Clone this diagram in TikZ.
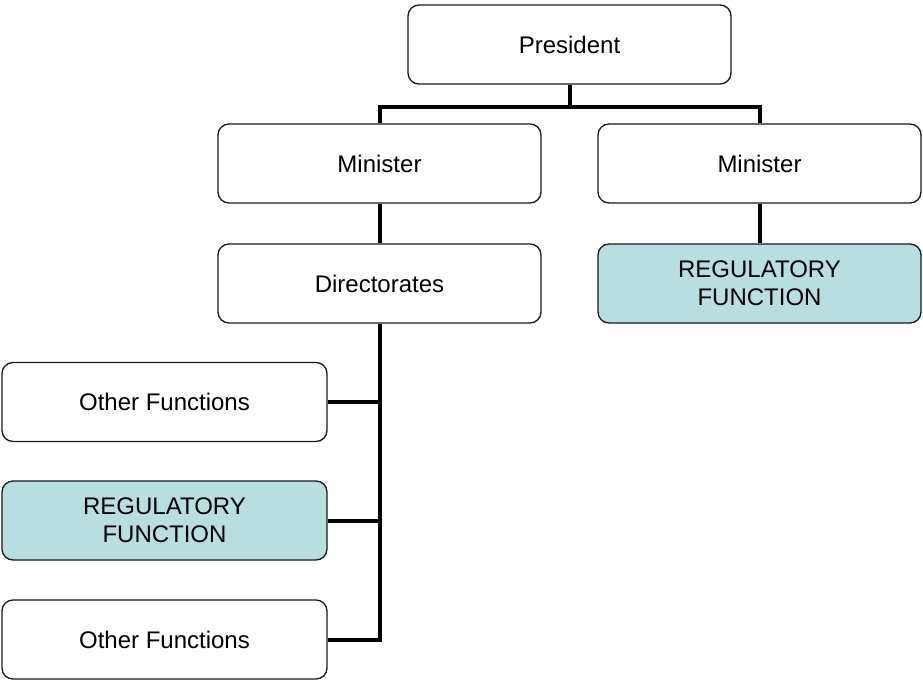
\documentclass[tikz,border=0pt]{standalone}
\usepackage{fontspec}
\setmainfont{Liberation Sans}
\definecolor{regblue}{RGB}{185,222,224}
\begin{document}
\begin{tikzpicture}[x=1pt,y=-1pt,
  box/.style={draw=black!90,line width=1.3pt,rounded corners=11pt,minimum width=323pt,minimum height=79pt,inner sep=0pt,align=center,font=\fontsize{24}{28}\selectfont},
  regbox/.style={box,fill=regblue},
  conn/.style={line width=4pt,black}]
\useasboundingbox (0,0) rectangle (923,682);
\node[box] (pres) at (569.5,44.5) {President};
\node[box] (minL) at (379.5,163.5) {Minister};
\node[box] (minR) at (759.5,163.5) {Minister};
\node[box] (dir) at (379.5,283.5) {Directorates};
\node[regbox] (regR) at (759.5,283.5) {REGULATORY\\FUNCTION};
\node[box,minimum width=325pt] (oth1) at (164.5,402) {Other Functions};
\node[regbox,minimum width=325pt] (regL) at (164.5,520.5) {REGULATORY\\FUNCTION};
\node[box,minimum width=325pt] (oth2) at (164.5,639.5) {Other Functions};
\draw[conn] (pres.south) -- ++(0,24);
\draw[conn] (minL.north) -- ++(0,-16) -| (minR.north);
\draw[conn] (minL.south) -- (dir.north);
\draw[conn] (minR.south) -- (regR.north);
\draw[conn] (dir.south) |- (oth2.east);
\draw[conn] (oth1.east) -- (oth1.east -| dir.south);
\draw[conn] (regL.east) -- (regL.east -| dir.south);
\end{tikzpicture}
\end{document}
